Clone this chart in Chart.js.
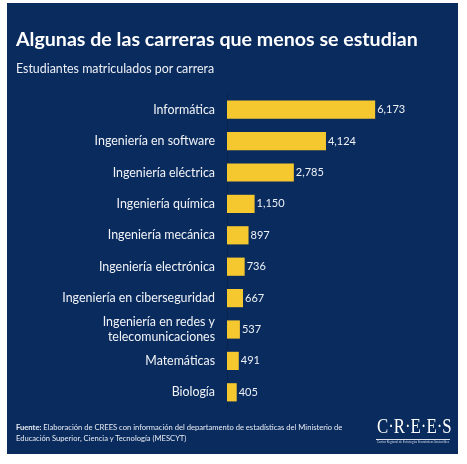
<!DOCTYPE html>
<html><head><meta charset="utf-8">
<script src="https://cdn.jsdelivr.net/npm/chart.js@4"></script>
<style>
html,body{margin:0;padding:0;background:#fff;width:467px;height:464px;overflow:hidden;font-family:Lato,"Noto Sans",sans-serif;}
#panel{position:absolute;left:7px;top:3px;width:451px;height:451px;background:#0a2b5e;}
#wrap{position:absolute;left:0;top:0;width:467px;height:464px;}
.t{position:absolute;color:#fff;white-space:nowrap;}
#title{left:16px;top:27px;font-size:19.6px;font-weight:700;}
#sub{left:16px;top:61px;font-size:12.4px;color:#eef1f6;}
#foot{left:16px;top:422px;font-size:7.6px;line-height:11px;color:#e8ecf3;}
#logo{left:377px;top:414px;font-family:"Liberation Serif","DejaVu Serif",serif;font-size:21px;color:#fff;transform:scaleX(0.8);transform-origin:left top;}
#logoline{position:absolute;left:376px;top:439px;width:74px;height:1px;background:#dfe4ec;}
#logosub{left:377px;top:440px;font-size:3px;color:#cfd6e2;}
</style></head><body>
<div id="panel"></div>
<div id="wrap"><canvas id="c" width="467" height="464"></canvas></div>
<div class="t" id="title">Algunas de las carreras que menos se estudian</div>
<div class="t" id="sub">Estudiantes matriculados por carrera</div>
<div class="t" id="foot"><b>Fuente:</b> Elaboración de CREES con información del departamento de estadísticas del Ministerio de<br>Educación Superior, Ciencia y Tecnología (MESCYT)</div>
<div class="t" id="logo">C·R·E·E·S</div>
<div id="logoline"></div>
<div class="t" id="logosub">Centro Regional de Estrategias Económicas Sostenibles</div>
<script>
const categories = [
  "Informática",
  "Ingeniería en software",
  "Ingeniería eléctrica",
  "Ingeniería química",
  "Ingeniería mecánica",
  "Ingeniería electrónica",
  "Ingeniería en ciberseguridad",
  ["Ingeniería en redes y", "telecomunicaciones"],
  "Matemáticas",
  "Biología"
];
const students = [6173, 4124, 2785, 1150, 897, 736, 667, 537, 491, 405];

const valueLabels = {
  id: 'valueLabels',
  afterDatasetsDraw(chart) {
    const ctx = chart.ctx;
    const meta = chart.getDatasetMeta(0);
    ctx.save();
    ctx.font = '11px Lato, "Noto Sans", sans-serif';
    ctx.fillStyle = '#eef1f6';
    ctx.textBaseline = 'middle';
    ctx.textAlign = 'left';
    meta.data.forEach((bar, i) => {
      ctx.fillText(students[i].toLocaleString('en-US'), bar.x + 2, bar.y);
    });
    ctx.restore();
  }
};

new Chart(document.getElementById('c'), {
  type: 'bar',
  data: {
    labels: categories,
    datasets: [{
      data: students,
      backgroundColor: '#f6c830',
      borderWidth: 0,
      barPercentage: 0.58,
      categoryPercentage: 1
    }]
  },
  options: {
    indexAxis: 'y',
    responsive: false,
    animation: false,
    devicePixelRatio: 1,
    layout: { padding: { top: 94, bottom: 56, left: 0, right: 0 } },
    plugins: { legend: { display: false }, tooltip: { enabled: false } },
    scales: {
      x: { display: false, min: 0, max: 10000 },
      y: {
        afterFit(scale) { scale.width = 227; },
        grid: { display: false, drawTicks: false },
        border: { display: true, color: 'rgba(0,0,0,0.18)', width: 1 },
        ticks: {
          autoSkip: false,
          padding: 12,
          color: '#f2f4f8',
          font: { family: 'Lato, "Noto Sans", sans-serif', size: 12.4, lineHeight: 1.15 }
        }
      }
    }
  },
  plugins: [valueLabels]
});
</script>
</body></html>
